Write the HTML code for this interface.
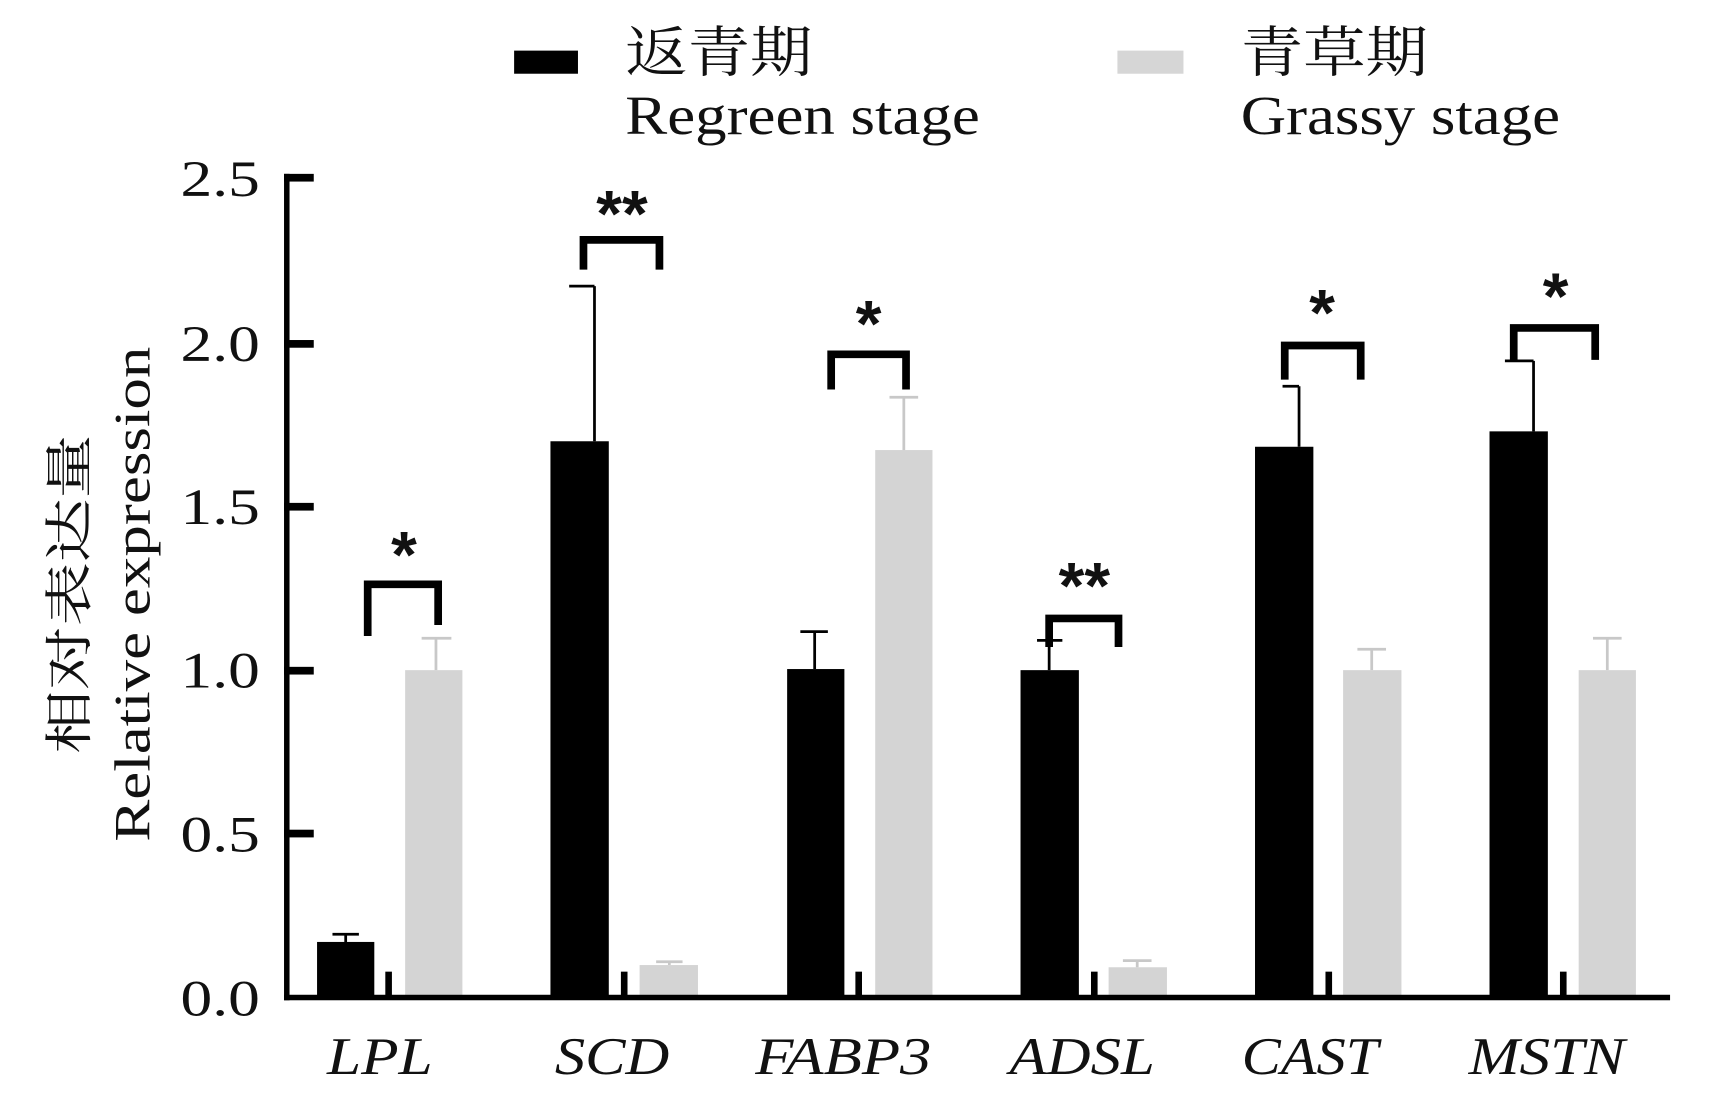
<!DOCTYPE html>
<html><head><meta charset="utf-8"><style>
html,body{margin:0;padding:0;background:#fff}
svg{display:block}
text{font-family:"Liberation Serif","Noto Serif CJK SC",serif;fill:#111}
</style></head><body>
<svg width="1724" height="1096" viewBox="0 0 1566 996" preserveAspectRatio="none" xmlns="http://www.w3.org/2000/svg">
<!-- legend -->
<rect x="467" y="46" width="58" height="21" fill="#000"/>
<rect x="1015" y="46" width="60" height="21" fill="#d6d6d6"/>
<text x="568" y="65" font-size="50" textLength="170" lengthAdjust="spacingAndGlyphs">返青期</text>
<text x="568" y="122" font-size="50" textLength="322" lengthAdjust="spacingAndGlyphs">Regreen stage</text>
<text x="1127" y="65" font-size="50" textLength="170" lengthAdjust="spacingAndGlyphs">青草期</text>
<text x="1127" y="122" font-size="50" textLength="290" lengthAdjust="spacingAndGlyphs">Grassy stage</text>
<!-- y title -->
<g transform="translate(0,540) rotate(-90)">
<text x="0" y="78" font-size="44" text-anchor="middle" textLength="290" lengthAdjust="spacingAndGlyphs" fill="#222">相对表达量</text>
<text x="0" y="136" font-size="46" text-anchor="middle" textLength="450" lengthAdjust="spacingAndGlyphs">Relative expression</text>
</g>
<!-- y tick labels -->
<g font-size="46" text-anchor="end">
<text x="236" y="178" textLength="72" lengthAdjust="spacingAndGlyphs">2.5</text>
<text x="236" y="328" textLength="72" lengthAdjust="spacingAndGlyphs">2.0</text>
<text x="236" y="476" textLength="72" lengthAdjust="spacingAndGlyphs">1.5</text>
<text x="236" y="625" textLength="72" lengthAdjust="spacingAndGlyphs">1.0</text>
<text x="236" y="774" textLength="72" lengthAdjust="spacingAndGlyphs">0.5</text>
<text x="236" y="923" textLength="72" lengthAdjust="spacingAndGlyphs">0.0</text>
</g>
<!-- bars black -->
<g fill="#000">
<rect x="288" y="856" width="52" height="51"/>
<rect x="500" y="401" width="53" height="506"/>
<rect x="715" y="608" width="52" height="299"/>
<rect x="927" y="609" width="53" height="298"/>
<rect x="1140" y="406" width="53" height="501"/>
<rect x="1353" y="392" width="53" height="515"/>
</g>
<g fill="#d4d4d4">
<rect x="368" y="609" width="52" height="298"/>
<rect x="581" y="877" width="53" height="30"/>
<rect x="795" y="409" width="52" height="498"/>
<rect x="1007" y="879" width="53" height="28"/>
<rect x="1220" y="609" width="53" height="298"/>
<rect x="1434" y="609" width="52" height="298"/>
</g>
<!-- error bars -->
<g stroke="#000" stroke-width="2.5" fill="none">
<path d="M314 856V849M302 849H326"/>
<path d="M540 401V260M517 260H540"/>
<path d="M740 608V574M727 574H752"/>
<path d="M953 609V582M942 582H965"/>
<path d="M1180 406V351M1165 351H1180"/>
<path d="M1393 392V328M1367 328H1393"/>
</g>
<g stroke="#c8c8c8" stroke-width="2.5" fill="none">
<path d="M396 609V580M383 580H410"/>
<path d="M608 877V874M596 874H620"/>
<path d="M821 409V361M808 361H834"/>
<path d="M1033 879V873M1020 873H1046"/>
<path d="M1246 609V590M1233 590H1259"/>
<path d="M1460 609V580M1447 580H1473"/>
</g>
<!-- axes -->
<g fill="#000">
<rect x="258" y="158" width="5" height="751"/>
<rect x="258" y="904" width="1259" height="5"/>
<rect x="258" y="158" width="27" height="7"/>
<rect x="258" y="309" width="27" height="7"/>
<rect x="258" y="457" width="27" height="7"/>
<rect x="258" y="606" width="27" height="7"/>
<rect x="258" y="754" width="27" height="7"/>
<rect x="350" y="883" width="6" height="24"/>
<rect x="564" y="883" width="6" height="24"/>
<rect x="777" y="883" width="6" height="24"/>
<rect x="991" y="883" width="6" height="24"/>
<rect x="1204" y="883" width="6" height="24"/>
<rect x="1417" y="883" width="6" height="24"/>
</g>
<!-- brackets -->
<g stroke="#000" stroke-width="7" fill="none">
<path d="M334 578V531H398V568"/>
<path d="M530 245V218H599V245"/>
<path d="M755 354V322H823V354"/>
<path d="M953 588V562H1016V588"/>
<path d="M1167 345V314H1236V345"/>
<path d="M1375 327V298H1449V327"/>
</g>
<g font-size="60" font-weight="bold" text-anchor="middle">
<text x="367" y="525" style="font-family:'Liberation Sans',sans-serif">*</text>
<text x="565" y="215" style="font-family:'Liberation Sans',sans-serif">**</text>
<text x="789" y="315" style="font-family:'Liberation Sans',sans-serif">*</text>
<text x="985" y="553" style="font-family:'Liberation Sans',sans-serif">**</text>
<text x="1201" y="305" style="font-family:'Liberation Sans',sans-serif">*</text>
<text x="1413" y="290" style="font-family:'Liberation Sans',sans-serif">*</text>
</g>
<!-- x labels -->
<g font-size="48" font-style="italic" text-anchor="middle">
<text x="345" y="976" textLength="96" lengthAdjust="spacingAndGlyphs">LPL</text>
<text x="556" y="976" textLength="104" lengthAdjust="spacingAndGlyphs">SCD</text>
<text x="766" y="976" textLength="160" lengthAdjust="spacingAndGlyphs">FABP3</text>
<text x="983" y="976" textLength="132" lengthAdjust="spacingAndGlyphs">ADSL</text>
<text x="1190" y="976" textLength="124" lengthAdjust="spacingAndGlyphs">CAST</text>
<text x="1405" y="976" textLength="142" lengthAdjust="spacingAndGlyphs">MSTN</text>
</g>
</svg>
</body></html>
